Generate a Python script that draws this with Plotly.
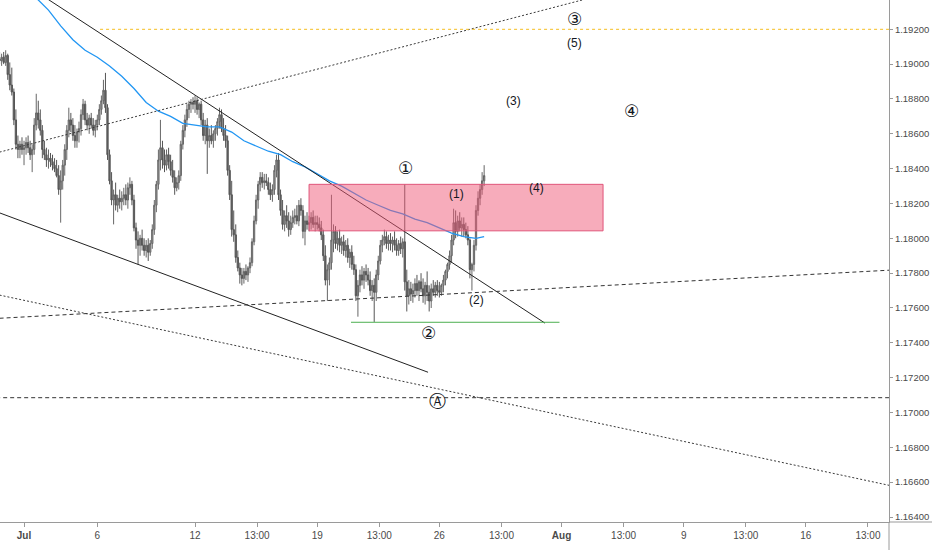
import pandas as pd
import plotly.graph_objects as go

# EUR/USD 2h candles, Jun 30 - Jul 27 2021 (weekends skipped)
times = [t for t in pd.date_range("2021-06-30 00:00", "2021-07-27 20:00", freq="2h") if t.weekday() < 5]

opens = [
    1.1903, 1.1902, 1.1904, 1.1901, 1.1905, 1.1894, 1.1888, 1.1884, 1.1868, 1.1854, 1.1851, 1.1854,  # Jun 30
    1.1851, 1.1852, 1.1855, 1.1852, 1.1848, 1.1851, 1.1865, 1.1872, 1.1868, 1.1862, 1.1851, 1.1848,  # Jul 1
    1.1845, 1.1846, 1.1844, 1.1842, 1.1840, 1.1836, 1.1828, 1.1833, 1.1842, 1.1851, 1.1862, 1.1868,  # Jul 2
    1.1865, 1.1859, 1.1856, 1.1861, 1.1863, 1.1871, 1.1877, 1.1868, 1.1865, 1.1869, 1.1865, 1.1862,  # Jul 5
    1.1865, 1.1868, 1.1874, 1.1879, 1.1885, 1.1875, 1.1848, 1.1833, 1.1822, 1.1825, 1.1819, 1.1823,  # Jul 6
    1.1821, 1.1823, 1.1825, 1.1822, 1.1829, 1.1831, 1.1822, 1.1806, 1.1799, 1.1796, 1.1800, 1.1796,  # Jul 7
    1.1793, 1.1796, 1.1792, 1.1797, 1.1805, 1.1819, 1.1831, 1.1845, 1.1852, 1.1845, 1.1842, 1.1848,  # Jul 8
    1.1844, 1.1839, 1.1835, 1.1829, 1.1832, 1.1836, 1.1854, 1.1862, 1.1868, 1.1874, 1.1877, 1.1878,  # Jul 9
    1.1877, 1.1879, 1.1874, 1.1877, 1.1868, 1.1859, 1.1865, 1.1856, 1.1859, 1.1856, 1.1860, 1.1863,  # Jul 12
    1.1867, 1.1871, 1.1863, 1.1859, 1.1856, 1.1839, 1.1825, 1.1805, 1.1802, 1.1789, 1.1783, 1.1779,  # Jul 13
    1.1777, 1.1781, 1.1779, 1.1783, 1.1786, 1.1798, 1.1810, 1.1822, 1.1831, 1.1835, 1.1832, 1.1833,  # Jul 14
    1.1832, 1.1828, 1.1825, 1.1828, 1.1839, 1.1845, 1.1825, 1.1816, 1.1808, 1.1813, 1.1810, 1.1805,  # Jul 15
    1.1809, 1.1812, 1.1813, 1.1810, 1.1819, 1.1816, 1.1804, 1.1810, 1.1808, 1.1809, 1.1812, 1.1808,  # Jul 16
    1.1809, 1.1808, 1.1806, 1.1802, 1.1790, 1.1776, 1.1782, 1.1786, 1.1799, 1.1804, 1.1797, 1.1800,  # Jul 19
    1.1796, 1.1798, 1.1793, 1.1796, 1.1789, 1.1792, 1.1785, 1.1782, 1.1767, 1.1773, 1.1779, 1.1776,  # Jul 20
    1.1781, 1.1779, 1.1776, 1.1770, 1.1773, 1.1769, 1.1779, 1.1787, 1.1796, 1.1799, 1.1801, 1.1797,  # Jul 21
    1.1799, 1.1797, 1.1799, 1.1796, 1.1793, 1.1797, 1.1794, 1.1798, 1.1775, 1.1767, 1.1771, 1.1768,  # Jul 22
    1.1770, 1.1774, 1.1770, 1.1775, 1.1771, 1.1767, 1.1773, 1.1769, 1.1764, 1.1771, 1.1769, 1.1773,  # Jul 23
    1.1770, 1.1769, 1.1773, 1.1776, 1.1781, 1.1785, 1.1790, 1.1799, 1.1809, 1.1804, 1.1810, 1.1806,  # Jul 26
    1.1808, 1.1805, 1.1802, 1.1799, 1.1782, 1.1785, 1.1796, 1.1816, 1.1823, 1.1828, 1.1833,          # Jul 27
]
highs = [
    1.1907, 1.1906, 1.1907, 1.1908, 1.1906, 1.1901, 1.1898, 1.1886, 1.1874, 1.1859, 1.1856, 1.1858,
    1.1856, 1.1858, 1.1859, 1.1856, 1.1854, 1.1869, 1.1883, 1.1879, 1.1874, 1.1865, 1.1856, 1.1852,
    1.1851, 1.1849, 1.1848, 1.1846, 1.1845, 1.1842, 1.1839, 1.1845, 1.1854, 1.1865, 1.1875, 1.1872,
    1.1869, 1.1865, 1.1863, 1.1867, 1.1874, 1.1880, 1.1879, 1.1872, 1.1871, 1.1872, 1.1869, 1.1868,
    1.1871, 1.1877, 1.1882, 1.1891, 1.1895, 1.1877, 1.1851, 1.1838, 1.1828, 1.1832, 1.1825, 1.1828,
    1.1827, 1.1829, 1.1831, 1.1832, 1.1835, 1.1833, 1.1825, 1.1809, 1.1804, 1.1802, 1.1805, 1.1800,
    1.1799, 1.1800, 1.1799, 1.1808, 1.1822, 1.1833, 1.1851, 1.1868, 1.1856, 1.1851, 1.1851, 1.1852,
    1.1848, 1.1845, 1.1839, 1.1835, 1.1839, 1.1856, 1.1865, 1.1871, 1.1877, 1.1879, 1.1880, 1.1881,
    1.1882, 1.1881, 1.1878, 1.1879, 1.1872, 1.1868, 1.1869, 1.1863, 1.1865, 1.1862, 1.1865, 1.1869,
    1.1875, 1.1874, 1.1869, 1.1865, 1.1859, 1.1842, 1.1833, 1.1816, 1.1808, 1.1793, 1.1786, 1.1783,
    1.1783, 1.1785, 1.1784, 1.1789, 1.1800, 1.1813, 1.1825, 1.1833, 1.1838, 1.1838, 1.1837, 1.1837,
    1.1835, 1.1832, 1.1831, 1.1842, 1.1848, 1.1849, 1.1828, 1.1822, 1.1816, 1.1819, 1.1815, 1.1813,
    1.1816, 1.1817, 1.1819, 1.1822, 1.1823, 1.1819, 1.1813, 1.1815, 1.1813, 1.1815, 1.1816, 1.1813,
    1.1813, 1.1812, 1.1810, 1.1805, 1.1796, 1.1785, 1.1789, 1.1825, 1.1808, 1.1807, 1.1804, 1.1805,
    1.1801, 1.1802, 1.1799, 1.1800, 1.1794, 1.1796, 1.1790, 1.1785, 1.1776, 1.1782, 1.1784, 1.1783,
    1.1785, 1.1783, 1.1781, 1.1776, 1.1777, 1.1782, 1.1790, 1.1799, 1.1802, 1.1805, 1.1804, 1.1802,
    1.1803, 1.1801, 1.1804, 1.1800, 1.1799, 1.1801, 1.1800, 1.1831, 1.1782, 1.1776, 1.1775, 1.1774,
    1.1777, 1.1779, 1.1776, 1.1780, 1.1777, 1.1775, 1.1781, 1.1773, 1.1774, 1.1776, 1.1775, 1.1776,
    1.1775, 1.1774, 1.1779, 1.1782, 1.1786, 1.1793, 1.1802, 1.1817, 1.1816, 1.1813, 1.1815, 1.1812,
    1.1812, 1.1809, 1.1807, 1.1800, 1.1786, 1.1799, 1.1819, 1.1827, 1.1831, 1.1838, 1.1842,
]
lows = [
    1.1900, 1.1899, 1.1900, 1.1899, 1.1891, 1.1885, 1.1882, 1.1865, 1.1851, 1.1846, 1.1846, 1.1848,
    1.1842, 1.1848, 1.1849, 1.1845, 1.1838, 1.1848, 1.1862, 1.1863, 1.1859, 1.1846, 1.1845, 1.1841,
    1.1840, 1.1841, 1.1839, 1.1838, 1.1835, 1.1825, 1.1809, 1.1828, 1.1836, 1.1845, 1.1858, 1.1861,
    1.1856, 1.1852, 1.1852, 1.1855, 1.1859, 1.1868, 1.1865, 1.1862, 1.1860, 1.1863, 1.1859, 1.1858,
    1.1862, 1.1865, 1.1871, 1.1877, 1.1872, 1.1845, 1.1831, 1.1819, 1.1808, 1.1816, 1.1815, 1.1817,
    1.1816, 1.1819, 1.1819, 1.1817, 1.1825, 1.1819, 1.1804, 1.1794, 1.1785, 1.1790, 1.1793, 1.1790,
    1.1789, 1.1787, 1.1790, 1.1794, 1.1802, 1.1815, 1.1828, 1.1839, 1.1840, 1.1838, 1.1839, 1.1840,
    1.1836, 1.1832, 1.1825, 1.1827, 1.1828, 1.1833, 1.1851, 1.1858, 1.1864, 1.1869, 1.1872, 1.1874,
    1.1872, 1.1871, 1.1869, 1.1865, 1.1856, 1.1854, 1.1837, 1.1852, 1.1854, 1.1852, 1.1856, 1.1859,
    1.1863, 1.1861, 1.1856, 1.1852, 1.1836, 1.1822, 1.1801, 1.1798, 1.1786, 1.1781, 1.1774, 1.1773,
    1.1774, 1.1776, 1.1775, 1.1780, 1.1784, 1.1796, 1.1808, 1.1817, 1.1827, 1.1829, 1.1828, 1.1830,
    1.1825, 1.1822, 1.1821, 1.1825, 1.1835, 1.1822, 1.1813, 1.1805, 1.1804, 1.1806, 1.1801, 1.1802,
    1.1806, 1.1808, 1.1808, 1.1807, 1.1813, 1.1800, 1.1796, 1.1805, 1.1804, 1.1805, 1.1806, 1.1804,
    1.1805, 1.1804, 1.1799, 1.1787, 1.1773, 1.1764, 1.1773, 1.1782, 1.1792, 1.1794, 1.1793, 1.1792,
    1.1791, 1.1790, 1.1789, 1.1786, 1.1783, 1.1782, 1.1779, 1.1764, 1.1755, 1.1769, 1.1773, 1.1771,
    1.1775, 1.1773, 1.1767, 1.1764, 1.1752, 1.1764, 1.1776, 1.1785, 1.1792, 1.1796, 1.1794, 1.1793,
    1.1793, 1.1792, 1.1793, 1.1790, 1.1790, 1.1791, 1.1789, 1.1770, 1.1758, 1.1762, 1.1764, 1.1763,
    1.1766, 1.1767, 1.1764, 1.1769, 1.1763, 1.1762, 1.1764, 1.1758, 1.1760, 1.1767, 1.1766, 1.1767,
    1.1766, 1.1767, 1.1769, 1.1773, 1.1777, 1.1782, 1.1786, 1.1796, 1.1800, 1.1801, 1.1804, 1.1801,
    1.1801, 1.1800, 1.1796, 1.1777, 1.1770, 1.1781, 1.1793, 1.1813, 1.1819, 1.1825, 1.1830,
]
closes = [
    1.1902, 1.1904, 1.1901, 1.1905, 1.1894, 1.1888, 1.1884, 1.1868, 1.1854, 1.1851, 1.1854, 1.1851,
    1.1852, 1.1855, 1.1852, 1.1848, 1.1851, 1.1865, 1.1872, 1.1868, 1.1862, 1.1851, 1.1848, 1.1845,
    1.1846, 1.1844, 1.1842, 1.1840, 1.1836, 1.1828, 1.1833, 1.1842, 1.1851, 1.1862, 1.1868, 1.1865,
    1.1859, 1.1856, 1.1861, 1.1863, 1.1871, 1.1877, 1.1868, 1.1865, 1.1869, 1.1865, 1.1862, 1.1865,
    1.1868, 1.1874, 1.1879, 1.1885, 1.1875, 1.1848, 1.1833, 1.1822, 1.1825, 1.1819, 1.1823, 1.1821,
    1.1823, 1.1825, 1.1822, 1.1829, 1.1831, 1.1822, 1.1806, 1.1799, 1.1796, 1.1800, 1.1796, 1.1793,
    1.1796, 1.1792, 1.1797, 1.1805, 1.1819, 1.1831, 1.1845, 1.1852, 1.1845, 1.1842, 1.1848, 1.1844,
    1.1839, 1.1835, 1.1829, 1.1832, 1.1836, 1.1854, 1.1862, 1.1868, 1.1874, 1.1877, 1.1878, 1.1877,
    1.1879, 1.1874, 1.1877, 1.1868, 1.1859, 1.1865, 1.1856, 1.1859, 1.1856, 1.1860, 1.1863, 1.1867,
    1.1871, 1.1863, 1.1859, 1.1856, 1.1839, 1.1825, 1.1805, 1.1802, 1.1789, 1.1783, 1.1779, 1.1777,
    1.1781, 1.1779, 1.1783, 1.1786, 1.1798, 1.1810, 1.1822, 1.1831, 1.1835, 1.1832, 1.1833, 1.1832,
    1.1828, 1.1825, 1.1828, 1.1839, 1.1845, 1.1825, 1.1816, 1.1808, 1.1813, 1.1810, 1.1805, 1.1809,
    1.1812, 1.1813, 1.1810, 1.1819, 1.1816, 1.1804, 1.1810, 1.1808, 1.1809, 1.1812, 1.1808, 1.1809,
    1.1808, 1.1806, 1.1802, 1.1790, 1.1776, 1.1782, 1.1786, 1.1799, 1.1804, 1.1797, 1.1800, 1.1796,
    1.1798, 1.1793, 1.1796, 1.1789, 1.1792, 1.1785, 1.1782, 1.1767, 1.1773, 1.1779, 1.1776, 1.1781,
    1.1779, 1.1776, 1.1770, 1.1773, 1.1769, 1.1779, 1.1787, 1.1796, 1.1799, 1.1801, 1.1797, 1.1799,
    1.1797, 1.1799, 1.1796, 1.1793, 1.1797, 1.1794, 1.1798, 1.1775, 1.1767, 1.1771, 1.1768, 1.1770,
    1.1774, 1.1770, 1.1775, 1.1771, 1.1767, 1.1773, 1.1769, 1.1764, 1.1771, 1.1769, 1.1773, 1.1770,
    1.1769, 1.1773, 1.1776, 1.1781, 1.1785, 1.1790, 1.1799, 1.1809, 1.1804, 1.1810, 1.1806, 1.1808,
    1.1805, 1.1802, 1.1799, 1.1782, 1.1785, 1.1796, 1.1816, 1.1823, 1.1828, 1.1833, 1.1836,
]

# moving average (blue)
ma_times = [
    "2021-07-01 12:00", "2021-07-02 00:00", "2021-07-02 12:00", "2021-07-05 00:00", "2021-07-05 12:00",
    "2021-07-06 00:00", "2021-07-06 12:00", "2021-07-07 00:00", "2021-07-07 12:00", "2021-07-08 00:00",
    "2021-07-08 12:00", "2021-07-09 00:00", "2021-07-09 12:00", "2021-07-12 00:00", "2021-07-12 12:00",
    "2021-07-13 00:00", "2021-07-13 12:00", "2021-07-14 00:00", "2021-07-14 12:00", "2021-07-15 00:00",
    "2021-07-15 12:00", "2021-07-16 00:00", "2021-07-16 12:00", "2021-07-19 00:00", "2021-07-19 12:00",
    "2021-07-20 00:00", "2021-07-20 12:00", "2021-07-21 00:00", "2021-07-21 12:00", "2021-07-22 00:00",
    "2021-07-22 12:00", "2021-07-23 00:00", "2021-07-23 12:00", "2021-07-26 00:00", "2021-07-26 12:00",
    "2021-07-27 00:00", "2021-07-27 12:00", "2021-07-27 20:00",
]
ma_values = [
    1.1938, 1.1931, 1.1922, 1.1914, 1.1908, 1.1904, 1.1899, 1.1893, 1.1886, 1.1878,
    1.1873, 1.1870, 1.1866, 1.1865, 1.1864, 1.1864, 1.1861, 1.1856, 1.1853, 1.1850,
    1.1848, 1.1844, 1.1841, 1.1837, 1.1833, 1.1830, 1.1826, 1.1822, 1.1819, 1.1816,
    1.1814, 1.1811, 1.1809, 1.1806, 1.1803, 1.1801, 1.1800, 1.1801,
]

# drawings: (time0, price0, time1, price1)
upper_trend = ("2021-07-01 00:00", 1.19462, "2021-07-30 07:48", 1.17513)
lower_trend = ("2021-06-30 00:00", 1.18146, "2021-07-23 12:54", 1.17231)
rising_dotted = ("2021-06-30 00:00", 1.18495, "2021-08-03 13:48", 1.19395)
rising_dashed = ("2021-06-30 00:00", 1.17541, "2021-08-19 09:42", 1.17817)
falling_dotted = ("2021-06-30 00:00", 1.17674, "2021-08-19 09:42", 1.16582)
level_a = 1.17085
level_target = 1.1920
level_target_start = "2021-07-06 02:42"
level_low = 1.17518
level_low_span = ("2021-07-20 09:12", "2021-07-30 22:00")
zone = ("2021-07-16 16:00", 1.18043, "2021-08-03 16:48", 1.18310)

# wave labels
wave_text = ["\u2462", "(5)", "(3)", "\u2463", "\u2460", "(1)", "(4)", "(2)", "\u2461", "\u24b6"]
wave_time = ["2021-08-02 12:18", "2021-08-02 12:18", "2021-07-29 01:18", "2021-08-04 21:12",
             "2021-07-22 15:12", "2021-07-26 16:24", "2021-07-29 23:00", "2021-07-27 12:00",
             "2021-07-23 13:48", "2021-07-23 21:42"]
wave_price = [1.19259, 1.19121, 1.18788, 1.18731, 1.18403, 1.18254, 1.18288, 1.17645, 1.17455, 1.17065]

x_tick_times = ["2021-07-01", "2021-07-06", "2021-07-12", "2021-07-14 13:00", "2021-07-19",
                "2021-07-21 13:00", "2021-07-26", "2021-07-28 13:00", "2021-08-02", "2021-08-04 13:00",
                "2021-08-09", "2021-08-11 13:00", "2021-08-16", "2021-08-18 13:00"]
x_tick_text = ["<b>Jul</b>", "6", "12", "13:00", "19", "13:00", "26", "13:00", "<b>Aug</b>", "13:00",
               "9", "13:00", "16", "13:00"]
y_ticks = [1.164, 1.166, 1.168, 1.170, 1.172, 1.174, 1.176, 1.178, 1.180, 1.182, 1.184, 1.186,
           1.188, 1.190, 1.192]

FONT = "Liberation Sans, Arial, sans-serif"
INK = "#131722"
AXIS = "#9a9a9a"

fig = go.Figure()

fig.add_trace(go.Candlestick(
    x=times, open=opens, high=highs, low=lows, close=closes,
    increasing=dict(line=dict(color="#666666", width=1), fillcolor="#9c9c9c"),
    decreasing=dict(line=dict(color="#555555", width=1), fillcolor="#666666"),
    whiskerwidth=0, hoverinfo="skip",
))

fig.add_trace(go.Scatter(x=ma_times, y=ma_values, mode="lines",
                         line=dict(color="#2196f3", width=1.3), hoverinfo="skip"))

shapes = []


def seg(p, color, dash="solid", width=1):
    shapes.append(dict(type="line", xref="x", yref="y", x0=p[0], y0=p[1], x1=p[2], y1=p[3],
                       line=dict(color=color, width=width, dash=dash)))


DOT = "2px,2px"
DASH = "4px,3px"
seg(upper_trend, "#222222")
seg(lower_trend, "#222222")
seg(rising_dotted, "#3a3a3a", DOT)
seg(rising_dashed, "#333333", DASH)
seg(falling_dotted, "#3a3a3a", DOT)
seg(("2021-06-29 00:00", level_a, "2021-08-20 12:00", level_a), "#333333", DASH)
seg((level_target_start, level_target, "2021-08-20 12:00", level_target), "#f5bd1f", "3px,3px")
seg((level_low_span[0], level_low, level_low_span[1], level_low), "#4caf50")

shapes.append(dict(type="rect", xref="x", yref="y", x0=zone[0], y0=zone[1], x1=zone[2], y1=zone[3],
                   fillcolor="rgba(240,90,120,0.5)", line=dict(color="#e0557a", width=1),
                   layer="above"))

# axis line extensions like the trading view frame
shapes.append(dict(type="line", xref="paper", yref="paper", x0=1, x1=1, y0=-0.06, y1=0,
                   line=dict(color=AXIS, width=1)))
shapes.append(dict(type="line", xref="paper", yref="paper", x0=1, x1=1.05, y0=0, y1=0,
                   line=dict(color=AXIS, width=1)))

annotations = []
for t, x, y in zip(wave_text, wave_time, wave_price):
    circled = not t.startswith("(")
    annotations.append(dict(x=x, y=y, xref="x", yref="y", text=t, showarrow=False,
                            font=dict(family="DejaVu Sans" if circled else FONT,
                                      size=17 if circled else 12, color=INK)))

fig.update_layout(
    width=932, height=550,
    margin=dict(l=0, r=43, t=0, b=28),
    paper_bgcolor="white", plot_bgcolor="white",
    showlegend=False, hovermode=False, boxgap=0.1,
    shapes=shapes, annotations=annotations,
    font=dict(family=FONT, size=10, color="#4a4a4a"),
    xaxis=dict(
        type="date", range=["2021-06-30 00:24", "2021-08-19 09:42"],
        rangebreaks=[dict(bounds=["sat", "mon"])],
        rangeslider=dict(visible=False),
        tickmode="array", tickvals=x_tick_times, ticktext=x_tick_text,
        ticks="outside", ticklen=4, tickcolor=AXIS,
        showline=True, linecolor=AXIS, linewidth=1,
        showgrid=False, zeroline=False,
        tickfont=dict(family=FONT, size=10, color="#4a4a4a"),
    ),
    yaxis=dict(
        side="right", range=[1.163713, 1.193683],
        tickmode="array", tickvals=y_ticks, ticktext=["%.5f" % v for v in y_ticks],
        ticks="outside", ticklen=3, tickcolor=AXIS,
        showline=True, linecolor=AXIS, linewidth=1,
        showgrid=False, zeroline=False,
        tickfont=dict(family=FONT, size=9.5, color="#4a4a4a"),
    ),
)

# page body has a default 8px margin; drop it so the figure sits at the window corner
fig.write_html("out.html", config={"displayModeBar": False},
               post_script="document.body.style.margin='0';")
